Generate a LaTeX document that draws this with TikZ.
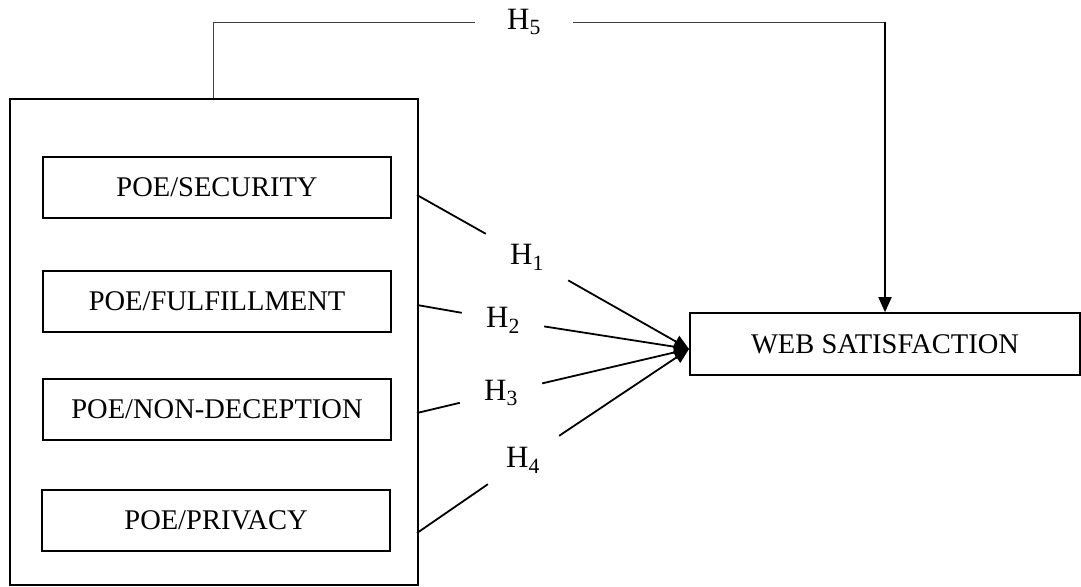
\documentclass[tikz,border=0pt]{standalone}
\usepackage{fontspec}
\setmainfont{Liberation Serif}
\usetikzlibrary{arrows.meta}

\tikzset{every node/.style={font=\fontsize{28.5}{34}\selectfont},
poe/.style={draw,line width=1.6pt,minimum width=348pt,minimum height=61pt,inner sep=0pt},
hyp/.style={minimum width=82pt,minimum height=48pt,inner sep=0pt,font=\fontsize{31}{36}\selectfont},
seg/.style={line width=1.8pt},
link/.style={line width=1.8pt,-{Triangle[length=15pt,width=13pt]}},
thinseg/.style={line width=0.9pt,color=black!75}}

\begin{document}
\begin{tikzpicture}[x=1pt,y=-1pt]
\useasboundingbox (0,0) rectangle (1081,586);
% the group of POE boxes
\node[draw,line width=1.6pt,minimum width=408pt,minimum height=486pt,inner sep=0pt,anchor=north west] (grp) at (9,98) {};
\node[poe] (sec) at (217,187.5) {POE/SECURITY};
\node[poe] (ful) at (217,301.5) {POE/FULFILLMENT};
\node[poe] (dec) at (217,409.5) {POE/NON-DECEPTION};
\node[poe] (pri) at (216,520.5) {POE/PRIVACY};
\node[draw,line width=1.6pt,minimum width=390pt,minimum height=62pt,inner sep=0pt] (web) at (885,344) {WEB SATISFACTION};
% hypotheses
\node[hyp] (h1) at (527,257) {H\textsubscript{1}};
\node[hyp] (h2) at (503,320) {H\textsubscript{2}};
\node[hyp] (h3) at (501,393) {H\textsubscript{3}};
\node[hyp,minimum width=74pt] (h4) at (523,460) {H\textsubscript{4}};
\node[hyp,minimum width=98pt] (h5) at (524,22) {H\textsubscript{5}};
\coordinate (s1) at (417,195);
\coordinate (s2) at (417,305);
\coordinate (s3) at (417,413);
\coordinate (s4) at (417,533);
\coordinate (tip) at (689,349);
\foreach \i in {1,...,4}{
\draw[seg] (s\i) -- (h\i);
\draw[link] (h\i) -- (tip);
}
\draw[thinseg] (grp.north) |- (h5.west);
\draw[thinseg] (h5.east) -- (h5.east -| web.north) coordinate (c5);
\draw[link] (c5) -- (web.north);
\end{tikzpicture}
\end{document}
